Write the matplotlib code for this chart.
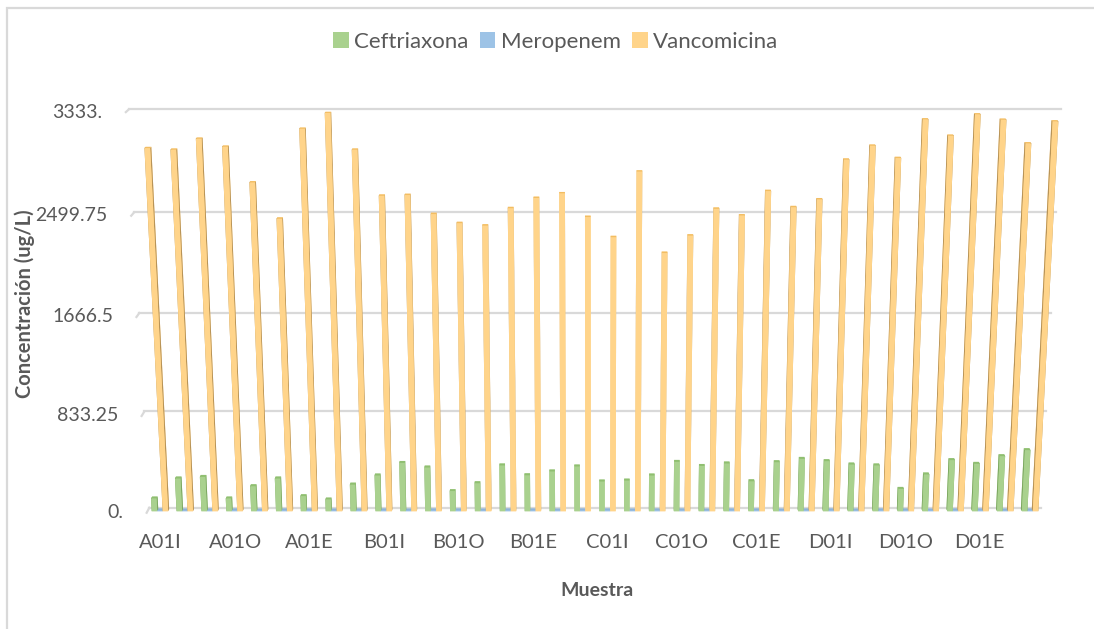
import numpy as np
import matplotlib
matplotlib.use("Agg")
import matplotlib.pyplot as plt
from matplotlib.patches import Patch, Rectangle

plt.rcParams["font.family"] = ["Lato", "DejaVu Sans"]

# Sample labels shown on the category axis (one every third sample)
sample_labels = ["A01I", "A01O", "A01E", "B01I", "B01O", "B01E",
                 "C01I", "C01O", "C01E", "D01I", "D01O", "D01E"]
label_step = 3

# Concentrations (ug/L) per sample
ceftriaxona = [110, 284, 298, 110, 217, 284, 130, 101, 231, 310, 419, 379,
               174, 243, 397, 312, 345, 388, 258, 266, 310, 428, 393, 414,
               260, 425, 454, 434, 405, 397, 194, 319, 443, 411, 477, 529]
meropenem = [6, 5, 6, 6, 5, 6, 6, 5, 6, 6, 5, 6,
             6, 5, 6, 6, 5, 6, 6, 5, 6, 6, 5, 6,
             6, 5, 6, 6, 5, 6, 6, 5, 6, 6, 5, 6]
vancomicina = [3039, 3026, 3114, 3050, 2762, 2467, 3194, 3320, 3026, 2654, 2660, 2505,
               2431, 2411, 2553, 2636, 2674, 2481, 2316, 2850, 2186, 2329, 2548, 2494,
               2692, 2561, 2625, 2946, 3058, 2959, 3269, 3138, 3309, 3266, 3077, 3253]

series_names = ["Ceftriaxona", "Meropenem", "Vancomicina"]

# Value axis
y_ticks = [0, 833.25, 1666.5, 2499.75, 3333]
y_tick_labels = ["0.", "833.25", "1666.5", "2499.75", "3333."]

# Face colours: (front, top, side)
palette = {
    "Ceftriaxona": ("#a9d18e", "#8fbf70", "#7da862"),
    "Meropenem": ("#9dc3e6", "#8fb3d9", "#87a9cc"),
    "Vancomicina": ("#ffd48a", "#f2bd62", "#b89458"),
}
offsets = [-0.22, 0.0, 0.22]
bar_w = 0.22

text_col = "#595959"
grid_col = "#d9d9d9"

W_PX, H_PX = 1094, 629
fig = plt.figure(figsize=(W_PX / 100, H_PX / 100), dpi=100)

# Square 3D axes, centred on the plot box
side = 1094.0
cx, cy = 595.0, 629 - 315.0
left = cx - 0.5135 * side
bottom = cy - 0.5135 * side
ax = fig.add_axes([left / W_PX, bottom / H_PX, side / W_PX, side / H_PX],
                  projection="3d")
ax.set_proj_type("persp", focal_length=0.40)
ax.view_init(elev=15, azim=-90)
ax.set_box_aspect((1.546, 0.026, 0.699), zoom=0.8904)
n = len(vancomicina)
ax.set_xlim(-0.5, n - 0.5)
ax.set_ylim(0, 1)
ax.set_zlim(0, y_ticks[-1])
ax.set_axis_off()
ax.patch.set_visible(False)

# Back wall and left side wall gridlines
for z in y_ticks:
    ax.plot([-0.5, n - 0.5], [1, 1], [z, z], color=grid_col, lw=1.6, zorder=0.5)
    ax.plot([-0.5, -0.5], [1, 0], [z, z], color=grid_col, lw=1.6, zorder=0.5)

# Bars
xs, ys, zs, dxs, dys, dzs, cols = [], [], [], [], [], [], []
for name, vals, off in zip(series_names, [ceftriaxona, meropenem, vancomicina], offsets):
    front, top, sidec = palette[name]
    for i, v in enumerate(vals):
        xs.append(i + off - bar_w / 2)
        ys.append(0.3)
        zs.append(0)
        dxs.append(bar_w)
        dys.append(0.4)
        dzs.append(v)
        # faces: -z, +z, -y, +y, -x, +x
        cols += [front, top, front, front, sidec, sidec]
ax.bar3d(xs, ys, zs, dxs, dys, dzs, color=cols, shade=False, linewidth=0)

# Axis texts are placed at their projected 3D anchor points
M = ax.get_proj()


def label3d(x, y, z, s, **kw):
    v = M @ np.array([x, y, z, 1.0])
    ax.text2D(v[0] / v[3], v[1] / v[3], s, transform=ax.transData, **kw)


for z, lab in zip(y_ticks, y_tick_labels):
    label3d(-1.42, 0, z, lab, ha="right", va="center", fontsize=14, color=text_col)

for k, lab in enumerate(sample_labels):
    label3d(k * label_step, 0, -260, lab, ha="center", va="center",
            fontsize=14.5, color=text_col)

# Titles
fig.text(597 / W_PX, 1 - 590 / H_PX, "Muestra", ha="center", va="center",
         fontsize=14, fontweight="bold", color=text_col)
fig.text(25 / W_PX, 1 - 304 / H_PX, "Concentración (ug/L)", ha="center", va="center",
         rotation=90, fontsize=14.5, fontweight="bold", color=text_col)

# Legend
handles = [Patch(facecolor=palette[s][0], edgecolor="none") for s in series_names]
fig.legend(handles, series_names, loc="center", bbox_to_anchor=(0.508, 1 - 42 / H_PX),
           ncol=3, frameon=False, fontsize=16, handlelength=0.7, handleheight=0.7,
           handletextpad=0.25, columnspacing=0.5, labelcolor=text_col)

# Chart area border
fig.add_artist(Rectangle((7 / W_PX, -0.1), 1.2, 1.1 - 8 / H_PX,
                         transform=fig.transFigure, fill=False,
                         edgecolor=grid_col, linewidth=1.6))

fig.savefig("out.png", dpi=100)
